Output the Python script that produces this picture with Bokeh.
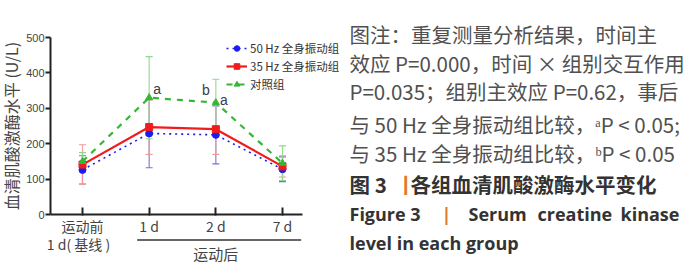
from bokeh.plotting import figure
from bokeh.models import (Range1d, FixedTicker, ColumnDataSource, Whisker, TeeHead,
                          Legend, LegendItem, LinearAxis)
from bokeh.core.properties import value
from bokeh.embed import file_html
from bokeh.resources import INLINE

# ---------------- data ----------------
categories = ["运动前", "1 d", "2 d", "7 d"]
baseline_second_line = "1 d( 基线 )"
post_label = "运动后"
y_ticks = [0, 100, 200, 300, 400, 500]

series_names = ["50 Hz 全身振动组", "35 Hz 全身振动组", "对照组"]
mean_50hz = [126, 229, 225, 128]
sd_50hz = [40, 97, 82, 35]
mean_35hz = [141, 247, 241, 136]
sd_35hz = [56, 77, 71, 30]
mean_ctrl = [150, 330, 316, 145]
sd_ctrl = [25, 116, 66, 49]

sig_text = ["a", "b", "a"]
sig_index = [1, 2, 2]

caption_lines = [
    "图注：重复测量分析结果，时间主",
    "效应 P=0.000，时间 × 组别交互作用",
    "P=0.035；组别主效应 P=0.62，事后",
    "与 50 Hz 全身振动组比较，ᵃP < 0.05;",
    "与 35 Hz 全身振动组比较，ᵇP < 0.05",
]
fig_title_cn = ["图 3", "丨", "各组血清肌酸激酶水平变化"]
fig_title_en = ["Figure 3", "|", "Serum", "creatine", "kinase", "level in each group"]

# ---------------- layout constants (pixels) ----------------
W, H = 700, 273
FL, FR, FT, FB = 50, 302, 37, 214          # chart area box
X_LO, X_HI = -0.48, 3.30                    # x extent of the axes
Y_LO, Y_HI = 0, 500

sx = (FR - FL) / (X_HI - X_LO)
sy = (FB - FT) / (Y_HI - Y_LO)
x_start = X_LO - FL / sx
x_end = X_HI + (W - FR) / sx
y_start = Y_LO - (H - FB) / sy
y_end = Y_HI + FT / sy

CJK = "Noto Sans CJK SC"
x = list(range(len(categories)))

p = figure(width=W, height=H, x_range=Range1d(x_start, x_end), y_range=Range1d(y_start, y_end),
           output_backend="svg", toolbar_location=None,
           x_axis_location=None, y_axis_location=None,
           min_border_left=0, min_border_right=0, min_border_top=0, min_border_bottom=0)
p.extra_y_ranges = {"px": Range1d(H, 0)}
p.extra_x_ranges = {"px": Range1d(0, W)}
p.xgrid.visible = False
p.ygrid.visible = False
p.outline_line_color = None
p.background_fill_color = "white"
p.border_fill_color = "white"

ax = LinearAxis(fixed_location=X_LO, bounds=(Y_LO, Y_HI))
ax.ticker = FixedTicker(ticks=y_ticks)
ax.minor_tick_line_color = None
ax.major_tick_in = 0
ax.major_tick_out = 5
ax.major_tick_line_width = 2
ax.major_tick_line_color = "#222222"
ax.axis_line_width = 2
ax.axis_line_color = "#222222"
ax.major_label_text_font = "Liberation Sans"
ax.major_label_text_font_size = "11px"
ax.major_label_text_color = "#444444"
ax.major_label_standoff = 1
ax.axis_label = "血清肌酸激酶水平 (U/L)"
ax.axis_label_text_font = CJK
ax.axis_label_text_font_size = "16px"
ax.axis_label_text_font_style = "normal"
ax.axis_label_text_color = "#444444"
ax.axis_label_standoff = 0
p.add_layout(ax, "left")

bx = LinearAxis(fixed_location=Y_LO, bounds=(X_LO, X_HI))
bx.ticker = FixedTicker(ticks=x)
bx.major_label_overrides = {i: c for i, c in zip(x, categories)}
bx.minor_tick_line_color = None
bx.major_tick_in = 7
bx.major_tick_out = 1
bx.major_tick_line_width = 2
bx.major_tick_line_color = "#222222"
bx.axis_line_width = 2
bx.axis_line_color = "#222222"
bx.major_label_text_font = CJK
bx.major_label_text_font_size = "14px"
bx.major_label_text_color = "#444444"
bx.major_label_standoff = 0
p.add_layout(bx, "below")

# second line of baseline label, bracket and "运动后"
p.text(x=[0], y=[243], text=[baseline_second_line], y_range_name="px", x_offset=-4,
       text_font=value(CJK), text_font_size="14px", text_color="#444444",
       text_align="center", text_baseline="middle")
p.segment(x0=[0.82], x1=[3.28], y0=[239.5], y1=[239.5], y_range_name="px",
          line_color="#333333", line_width=1.5)
p.text(x=[2], y=[253], text=[post_label], y_range_name="px",
       text_font=value(CJK), text_font_size="15px", text_color="#444444",
       text_align="center", text_baseline="middle")

specs = [
    (mean_50hz, sd_50hz, "#1c1cf0", "#7a6fd6", "dotted", 1.6, "circle", 7),
    (mean_35hz, sd_35hz, "#f01c1c", "#f39a9a", "solid", 2.2, "square", 7),
    (mean_ctrl, sd_ctrl, "#34b834", "#8fd88f", "dashed", 2.2, "triangle", 7),
]

items = []
for (m, s, col, ecol, dash, lw, mk, ms), name in zip(specs, series_names):
    src = ColumnDataSource(dict(x=x, y=m,
                                upper=[a + b for a, b in zip(m, s)],
                                lower=[a - b for a, b in zip(m, s)]))
    w = Whisker(source=src, base="x", upper="upper", lower="lower",
                line_color=ecol, line_width=1.2, line_alpha=0.9,
                upper_head=TeeHead(size=7, line_color=ecol, line_width=1.2),
                lower_head=TeeHead(size=7, line_color=ecol, line_width=1.2))
    p.add_layout(w)
for (m, s, col, ecol, dash, lw, mk, ms), name in zip(specs, series_names):
    src = ColumnDataSource(dict(x=x, y=m))
    r1 = p.line("x", "y", source=src, line_color=col, line_width=lw, line_dash=dash)
    r2 = p.scatter("x", "y", source=src, marker=mk, size=ms, fill_color=col, line_color=col)
    items.append(LegendItem(label=name, renderers=[r1, r2]))

sig_src = ColumnDataSource(dict(x=[x[i] for i in sig_index], y=[mean_ctrl[i] for i in sig_index],
                                text=sig_text, xo=[8, -10, 8], yo=[-9, -13, -3]))
p.text("x", "y", text="text", source=sig_src, x_offset="xo", y_offset="yo",
       text_font=value("Liberation Sans"), text_font_size="14px", text_color="#3a3a4a",
       text_align="center", text_baseline="middle")

leg = Legend(items=items, location=(226, H - 92), orientation="vertical",
             label_text_font=CJK, label_text_font_size="11.5px", label_text_color="#333333",
             glyph_width=21, glyph_height=14, label_height=14, spacing=2, padding=0, margin=0,
             label_standoff=3, border_line_color=None, background_fill_alpha=0)
p.add_layout(leg)

# ---------------- caption (pixel coordinates) ----------------
line_y = [33, 62, 90, 123, 152]
p.text(x=[349] * len(caption_lines), y=line_y, text=caption_lines,
       x_range_name="px", y_range_name="px",
       text_font=value(CJK), text_font_size="20.5px", text_color="#505050",
       text_baseline="middle")
p.text(x=[349, 395, 410], y=[183] * 3, text=fig_title_cn,
       x_range_name="px", y_range_name="px",
       text_font=value(CJK), text_font_size="20.5px", text_font_style="bold",
       text_color=["#333333", "#e07a1f", "#333333"], text_baseline="middle")
p.text(x=[349, 441, 468, 537, 620, 349], y=[213, 213, 213, 213, 213, 242], text=fig_title_en,
       x_range_name="px", y_range_name="px",
       text_font=value("Open Sans"), text_font_size="18px", text_font_style="bold",
       text_color=["#333333", "#e07a1f", "#333333", "#333333", "#333333", "#333333"],
       text_baseline="middle")

open("out.html", "w").write(file_html(p, INLINE))
